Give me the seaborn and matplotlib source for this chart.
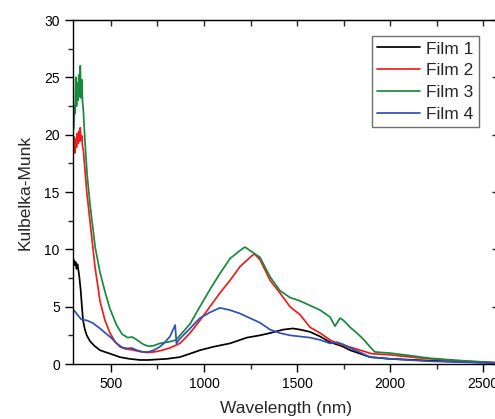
import numpy as np
import pandas as pd
import matplotlib
matplotlib.use('Agg')
import matplotlib.pyplot as plt
from matplotlib.ticker import MultipleLocator
import seaborn as sns

# Values (wavelength in nm, Kubelka-Munk units)
film1_nm = [300, 305, 310, 315, 320, 325, 330, 337, 343, 350, 360, 370, 387, 410, 441, 495, 548, 600, 656,
            700, 800, 870, 925, 978, 1050, 1140, 1230, 1301, 1355, 1425, 1478, 1516, 1570, 1624, 1677,
            1715, 1750, 1785, 1840, 1892, 2000, 2200, 2400, 2580]
film1_km = [9.1, 8.6, 8.9, 8.3, 8.7, 8.2, 7.6, 6.5, 5.2, 3.8, 3.0, 2.5, 2.0, 1.6, 1.2, 0.9, 0.6, 0.45, 0.35,
            0.35, 0.45, 0.6, 0.9, 1.2, 1.5, 1.8, 2.3, 2.5, 2.7, 3.0, 3.1, 3.0, 2.8, 2.4, 1.9,
            1.7, 1.5, 1.2, 0.9, 0.6, 0.45, 0.3, 0.18, 0.1]

film2_nm = [300, 303, 307, 311, 315, 319, 323, 327, 331, 335, 339, 343, 347, 352, 360, 370, 387, 414, 441,
            468, 495, 520, 548, 580, 610, 650, 694, 730, 763, 817, 871, 925, 978, 1032, 1086, 1140, 1194,
            1247, 1270, 1301, 1355, 1408, 1462, 1516, 1570, 1624, 1677, 1715, 1760, 1800, 1840, 1900,
            2000, 2145, 2300, 2450, 2580]
film2_km = [19.0, 19.8, 18.4, 19.6, 18.9, 20.1, 19.2, 20.3, 19.4, 20.6, 19.5, 19.9, 19.0, 18.6, 17.0, 15.0,
            12.5, 8.5, 5.5, 3.8, 2.7, 2.0, 1.5, 1.3, 1.25, 1.1, 1.0, 1.05, 1.15, 1.4, 1.8, 2.7, 3.8, 5.0,
            6.2, 7.3, 8.5, 9.3, 9.6, 9.1, 7.3, 6.2, 5.0, 4.3, 3.2, 2.7, 2.1, 1.8, 1.6, 1.4, 1.2, 0.9,
            0.8, 0.55, 0.35, 0.2, 0.1]

film3_nm = [300, 303, 307, 311, 315, 319, 323, 327, 331, 335, 339, 343, 347, 352, 360, 372, 387, 415, 441,
            468, 495, 530, 560, 590, 615, 640, 670, 700, 730, 763, 817, 850, 871, 925, 978, 1032, 1086,
            1140, 1194, 1220, 1247, 1301, 1355, 1408, 1462, 1516, 1570, 1624, 1677, 1704, 1731, 1750,
            1785, 1822, 1860, 1892, 1918, 2000, 2100, 2215, 2350, 2480, 2580]
film3_km = [20.5, 22.5, 21.8, 25.0, 22.5, 24.5, 23.0, 25.2, 23.3, 26.0, 23.2, 24.8, 23.0, 22.0, 19.5, 16.5,
            14.0, 10.2, 8.0, 6.3, 4.8, 3.4, 2.6, 2.3, 2.35, 2.1, 1.75, 1.55, 1.6, 1.8, 1.95, 2.1, 2.5,
            3.5, 5.0, 6.5, 7.9, 9.2, 9.9, 10.2, 9.9, 9.3, 7.6, 6.4, 5.8, 5.5, 5.1, 4.7, 4.1, 3.3, 4.0,
            3.8, 3.2, 2.7, 2.1, 1.5, 1.05, 0.95, 0.75, 0.5, 0.33, 0.2, 0.1]

film4_nm = [300, 320, 340, 370, 400, 441, 470, 500, 530, 560, 590, 610, 640, 672, 700, 730, 763, 790, 817,
            845, 852, 870, 925, 978, 1032, 1086, 1140, 1194, 1247, 1301, 1355, 1408, 1462, 1516, 1570,
            1624, 1677, 1715, 1750, 1785, 1840, 1892, 2000, 2200, 2400, 2580]
film4_km = [4.7, 4.3, 3.9, 3.8, 3.6, 3.1, 2.7, 2.3, 1.8, 1.45, 1.35, 1.4, 1.2, 1.05, 1.05, 1.2, 1.5, 1.9,
            2.4, 3.4, 1.8, 2.2, 3.1, 4.0, 4.5, 4.9, 4.7, 4.4, 4.0, 3.6, 3.0, 2.7, 2.5, 2.4, 2.3,
            2.1, 1.8, 1.9, 1.7, 1.4, 1.0, 0.6, 0.45, 0.25, 0.15, 0.08]

films = ['Film 1', 'Film 2', 'Film 3', 'Film 4']
colors = ['#000000', '#f01c1c', '#168a3a', '#3050b4']

frames = []
for name, nm, km in zip(films,
                        [film1_nm, film2_nm, film3_nm, film4_nm],
                        [film1_km, film2_km, film3_km, film4_km]):
    frames.append(pd.DataFrame({'Wavelength': nm, 'KM': km, 'Film': name}))
df = pd.concat(frames, ignore_index=True)

sns.set_style('ticks')
plt.rcParams['font.family'] = ['Liberation Sans', 'DejaVu Sans']

fig = plt.figure(figsize=(4.95, 4.19), dpi=100)
ax = fig.add_axes([73 / 495, 55 / 419, 425 / 495, 344 / 419])

sns.lineplot(data=df, x='Wavelength', y='KM', hue='Film', palette=dict(zip(films, colors)),
             estimator=None, sort=True, linewidth=1.25, ax=ax)

ax.set_xlim(296, 2580)
ax.set_ylim(0, 30)
ax.xaxis.set_major_locator(MultipleLocator(500))
ax.xaxis.set_minor_locator(MultipleLocator(250))
ax.yaxis.set_major_locator(MultipleLocator(5))
ax.yaxis.set_minor_locator(MultipleLocator(2.5))
ax.tick_params(which='major', direction='out', length=6, width=1, labelsize=10, colors='black')
ax.tick_params(which='minor', direction='out', length=3.5, width=1)
for s in ax.spines.values():
    s.set_linewidth(1.0)
    s.set_color('black')

# inward ticks on top and right, Origin style
top = ax.secondary_xaxis('top')
top.xaxis.set_major_locator(MultipleLocator(500))
top.xaxis.set_minor_locator(MultipleLocator(250))
top.tick_params(which='both', direction='in', length=4.5, width=1, labeltop=False)
right = ax.secondary_yaxis('right')
right.yaxis.set_major_locator(MultipleLocator(5))
right.yaxis.set_minor_locator(MultipleLocator(2.5))
right.tick_params(which='major', direction='in', length=4.5, width=1, labelright=False)
right.tick_params(which='minor', direction='in', length=0, width=1, labelright=False)

ax.set_xlabel('Wavelength (nm)', fontsize=12.5, labelpad=7)
ax.set_ylabel('Kulbelka-Munk', fontsize=12.5, labelpad=8)

handles, labels = ax.get_legend_handles_labels()
ax.legend(handles, labels, loc='upper right', bbox_to_anchor=(0.955, 0.953), borderaxespad=0,
          fontsize=12.5, frameon=True, fancybox=False, edgecolor='#707070', framealpha=1,
          handlelength=2.5, handletextpad=0.35, labelspacing=0.38, borderpad=0.3)
ax.get_legend().get_frame().set_linewidth(1.0)

fig.savefig('out.png', dpi=100)
